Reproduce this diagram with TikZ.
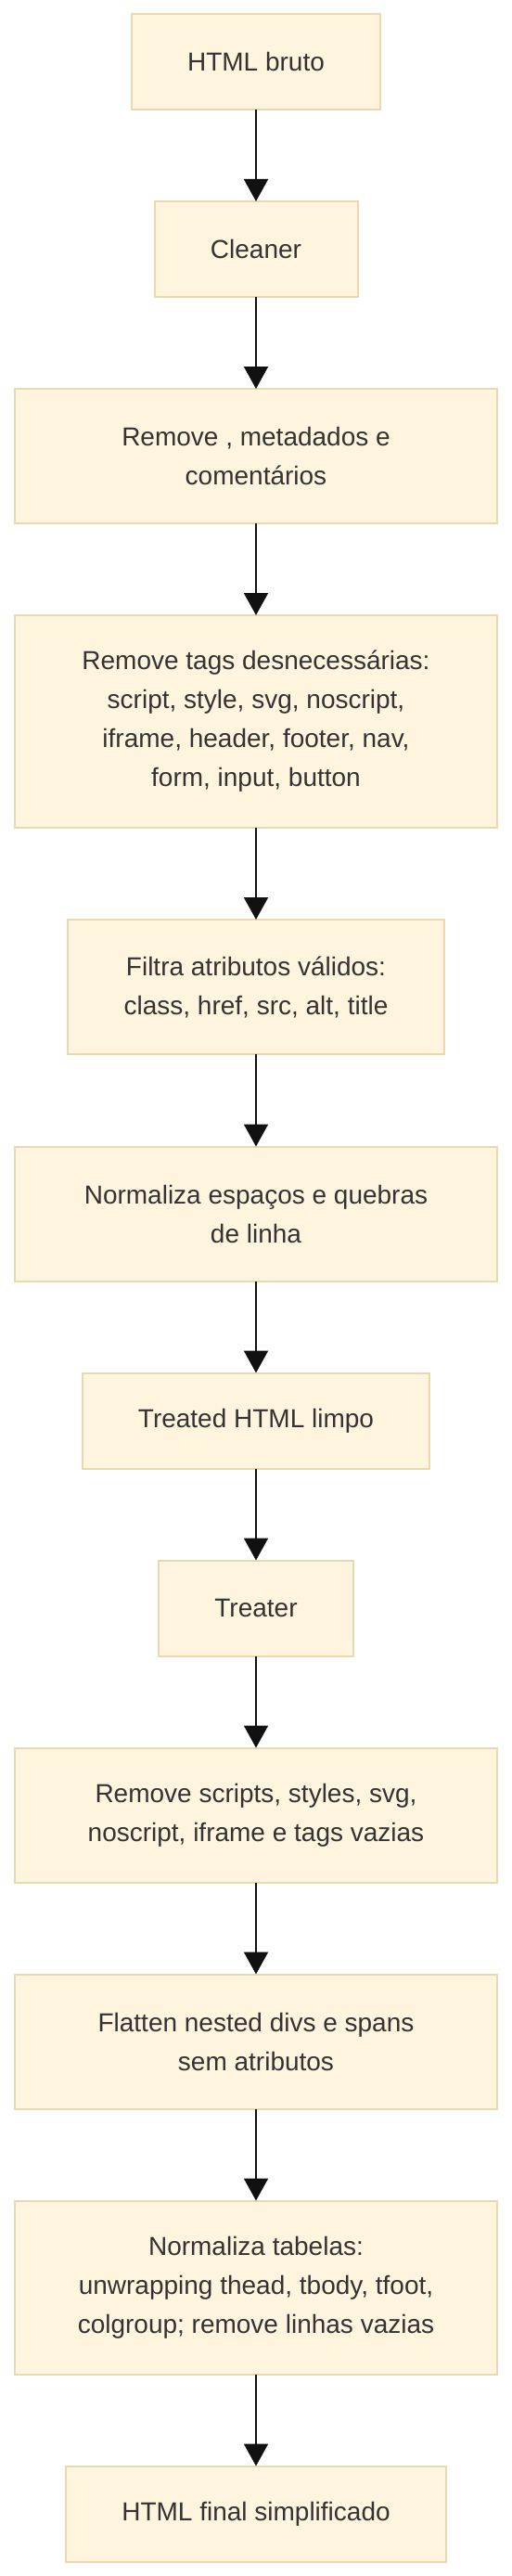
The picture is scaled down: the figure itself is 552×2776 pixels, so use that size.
\documentclass[tikz,border=0pt]{standalone}
\usepackage{fontspec}
\setmainfont{Liberation Sans}
\usetikzlibrary{arrows.meta}
\definecolor{boxfill}{HTML}{FFF4DD}
\definecolor{boxline}{HTML}{EAD8B0}
\definecolor{txt}{HTML}{333333}
\definecolor{arr}{HTML}{111111}
\begin{document}
\begin{tikzpicture}[x=0.75pt,y=-0.75pt,
  box/.style={draw=boxline, fill=boxfill, line width=1.5pt, rectangle, align=center,
    text=txt, font=\fontsize{21}{31.5}\selectfont, inner sep=0pt, outer sep=0pt},
  flow/.style={draw=arr, line width=1.5pt, -{Triangle[length=18pt,width=19.5pt]}}]
\useasboundingbox (0,0) rectangle (552,2776);
\node[box, minimum width=268*0.75pt, minimum height=103*0.75pt] (n1) at (276,66.5) {HTML bruto};
\node[box, minimum width=219*0.75pt, minimum height=103*0.75pt] (n2) at (276,268.5) {Cleaner};
\node[box, minimum width=520*0.75pt, minimum height=145*0.75pt] (n3) at (276,491.5) {Remove , metadados e\\comentários};
\node[box, minimum width=520*0.75pt, minimum height=229*0.75pt] (n4) at (276,777.5) {Remove tags desnecessárias:\\script, style, svg, noscript,\\iframe, header, footer, nav,\\form, input, button};
\node[box, minimum width=406*0.75pt, minimum height=145*0.75pt] (n5) at (276,1063.5) {Filtra atributos válidos:\\class, href, src, alt, title};
\node[box, minimum width=520*0.75pt, minimum height=145*0.75pt] (n6) at (276,1308) {Normaliza espaços e quebras\\de linha};
\node[box, minimum width=374*0.75pt, minimum height=103*0.75pt] (n7) at (276,1531) {Treated HTML limpo};
\node[box, minimum width=210*0.75pt, minimum height=103*0.75pt] (n8) at (276,1733) {Treater};
\node[box, minimum width=520*0.75pt, minimum height=145*0.75pt] (n9) at (276,1956) {Remove scripts, styles, svg,\\noscript, iframe e tags vazias};
\node[box, minimum width=520*0.75pt, minimum height=145*0.75pt] (n10) at (276,2200) {Flatten nested divs e spans\\sem atributos};
\node[box, minimum width=520*0.75pt, minimum height=187*0.75pt] (n11) at (276,2465) {Normaliza tabelas:\\unwrapping thead, tbody, tfoot,\\colgroup; remove linhas vazias};
\node[box, minimum width=410*0.75pt, minimum height=103*0.75pt] (n12) at (276,2709) {HTML final simplificado};
\foreach \a/\b in {n1/n2,n2/n3,n3/n4,n4/n5,n5/n6,n6/n7,n7/n8,n8/n9,n9/n10,n10/n11,n11/n12}
  \draw[flow] (\a.south) -- (\b.north);
\end{tikzpicture}
\end{document}
